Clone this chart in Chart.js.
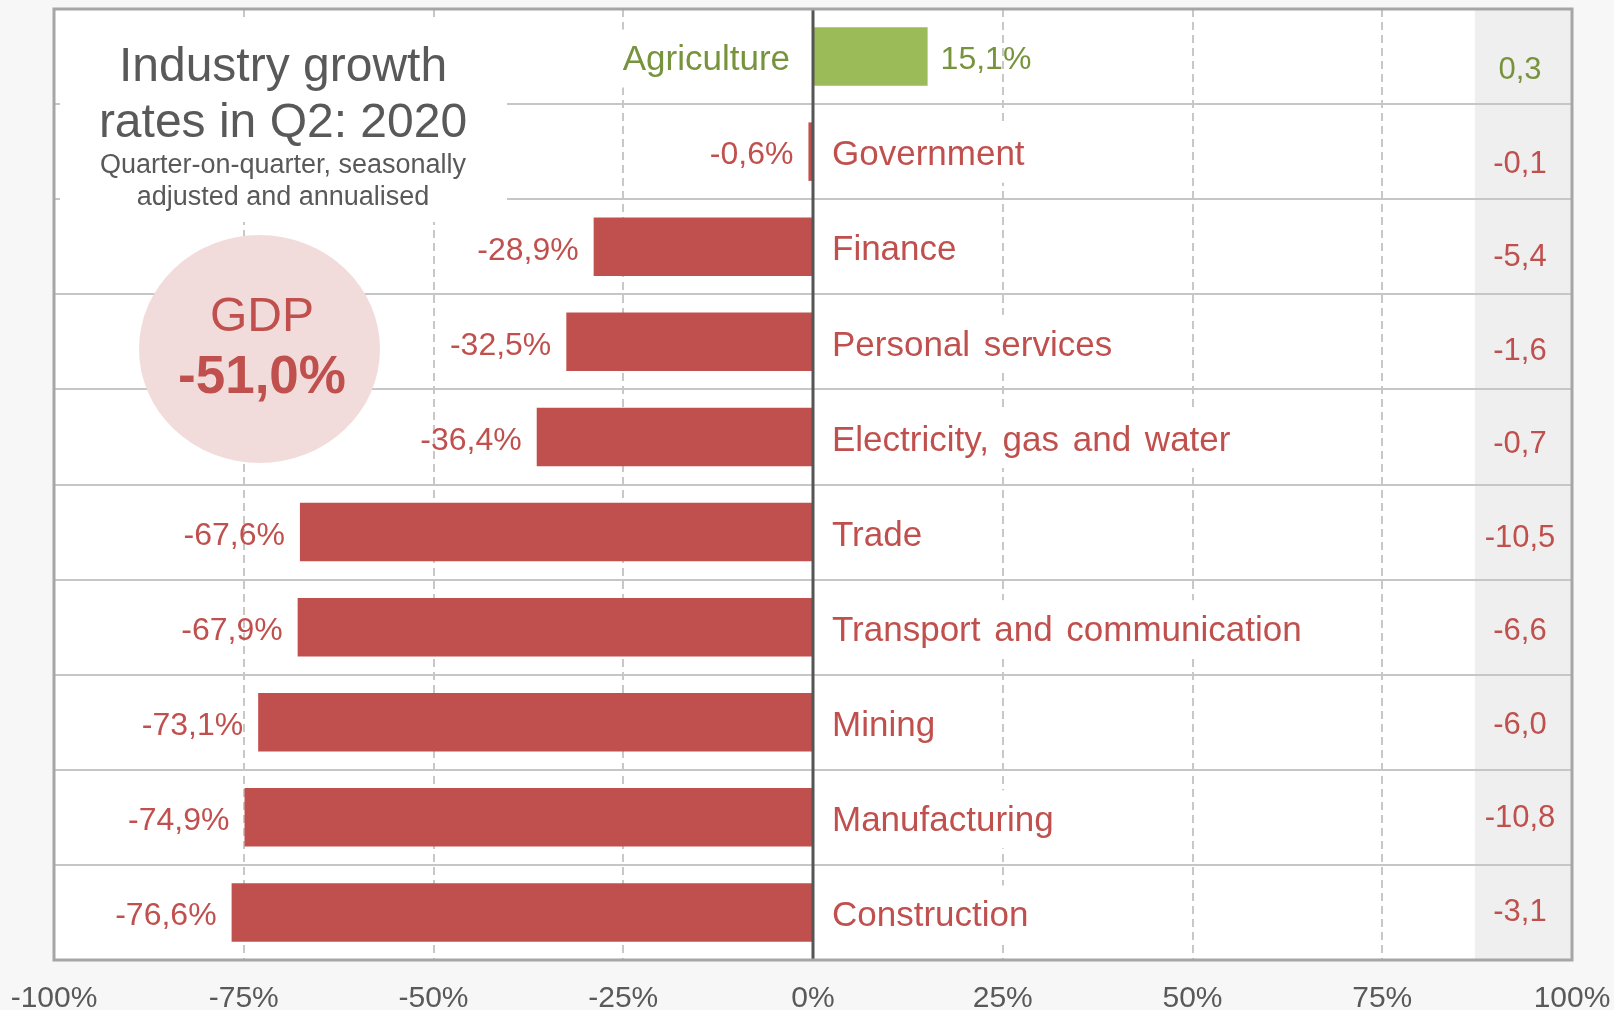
<!DOCTYPE html>
<html>
<head>
<meta charset="utf-8">
<script src="https://cdn.jsdelivr.net/npm/chart.js@4/dist/chart.umd.min.js"></script>
<style>
  body { margin: 0; background: #f7f7f7; }
  #wrap { width: 1614px; height: 1010px; }
</style>
</head>
<body>
<div id="wrap"><canvas id="growthChart" width="1614" height="1010"></canvas></div>
<script>
// industries, top to bottom
var categories = ['Agriculture', 'Government', 'Finance', 'Personal services', 'Electricity, gas and water',
    'Trade', 'Transport and communication', 'Mining', 'Manufacturing', 'Construction'];
// q/q saar growth, %
var growth = [15.1, -0.6, -28.9, -32.5, -36.4, -67.6, -67.9, -73.1, -74.9, -76.6];
// contribution to GDP growth, percentage points (right column)
var contribution = [0.3, -0.1, -5.4, -1.6, -0.7, -10.5, -6.6, -6.0, -10.8, -3.1];
var gdpGrowth = -51.0;
var tickValues = [-100, -75, -50, -25, 0, 25, 50, 75, 100];

var RED = '#c0504d';
var GREEN = '#9bbb59';
var GREEN_TEXT = '#77933c';
var GREY_TEXT = '#595959';
var FONT = '"Liberation Sans", Arial, sans-serif';

function fmt(v) {
    return v.toFixed(1).replace('.', ',');
}

var ctx = document.getElementById('growthChart').getContext('2d');

// background, shaded column, title box, labels
var decor = {
    id: 'decor',
    beforeDraw: function (chart) {
        var c = chart.ctx, a = chart.chartArea, x = chart.scales.x;
        c.save();
        c.fillStyle = '#f7f7f7';
        c.fillRect(0, 0, chart.width, chart.height);
        c.fillStyle = '#ffffff';
        c.fillRect(a.left, a.top, a.width, a.height);
        var bx = x.getPixelForValue(87.2);
        c.fillStyle = '#efefef';
        c.fillRect(bx, a.top, a.right - bx, a.height);
        c.restore();
    },
    beforeDatasetsDraw: function (chart) {
        var c = chart.ctx;
        var bars = chart.getDatasetMeta(0).data;
        c.save();
        // title box hides the grid
        c.fillStyle = '#ffffff';
        c.fillRect(60, 17, 447, 205);
        // white boxes behind category names
        c.font = '35px ' + FONT;
        c.wordSpacing = '4px';
        bars.forEach(function (bar, i) {
            var w = c.measureText(categories[i]).width;
            var left = growth[i] >= 0 ? bar.base - 24 - w : bar.base + 20;
            c.fillRect(left - 3, bar.y - 27, w + 6, 58);
        });
        c.restore();
    },
    afterDatasetsDraw: function (chart) {
        var c = chart.ctx, a = chart.chartArea, x = chart.scales.x;
        var bars = chart.getDatasetMeta(0).data;
        c.save();

        // zero line
        var zx = x.getPixelForValue(0);
        c.strokeStyle = '#555555';
        c.lineWidth = 3;
        c.beginPath();
        c.moveTo(zx, a.top);
        c.lineTo(zx, a.bottom);
        c.stroke();

        // frame
        c.strokeStyle = '#a6a6a6';
        c.lineWidth = 3;
        c.strokeRect(a.left, a.top, a.width, a.height);

        c.textBaseline = 'middle';
        bars.forEach(function (bar, i) {
            var pos = growth[i] >= 0;
            c.fillStyle = pos ? GREEN_TEXT : RED;

            // value label
            c.font = '32px ' + FONT;
            c.wordSpacing = '0px';
            c.textAlign = pos ? 'left' : 'right';
            c.fillText(fmt(growth[i]) + '%', pos ? bar.x + 13 : bar.x - 15, bar.y + 4);

            // category name
            c.font = '35px ' + FONT;
            c.wordSpacing = '4px';
            c.textAlign = pos ? 'right' : 'left';
            c.fillText(categories[i], pos ? bar.base - 24 : bar.base + 20, bar.y + 4);

            // contribution column
            c.font = '31px ' + FONT;
            c.wordSpacing = '0px';
            c.textAlign = 'center';
            c.fillText(fmt(contribution[i]), 1520, bar.y + 14 - i * 1.6);
        });

        // title
        c.fillStyle = GREY_TEXT;
        c.textAlign = 'center';
        c.textBaseline = 'alphabetic';
        c.font = '48px ' + FONT;
        c.fillText('Industry growth', 283, 81);
        c.fillText('rates in Q2: 2020', 283, 137);
        c.font = '27px ' + FONT;
        c.fillText('Quarter-on-quarter, seasonally', 283, 173);
        c.fillText('adjusted and annualised', 283, 205);

        // GDP bubble
        c.fillStyle = '#f2dcdb';
        c.beginPath();
        c.ellipse(259.5, 349, 120.5, 114, 0, 0, Math.PI * 2);
        c.fill();
        c.fillStyle = RED;
        c.font = '48px ' + FONT;
        c.fillText('GDP', 262, 331);
        c.font = 'bold 53px ' + FONT;
        c.fillText(fmt(gdpGrowth) + '%', 262, 393);

        c.restore();
    }
};

var growthChart = new Chart(ctx, {
    type: 'bar',
    data: {
        labels: categories,
        datasets: [{
            data: growth,
            backgroundColor: growth.map(function (v) { return v >= 0 ? GREEN : RED; }),
            borderWidth: 0,
            barPercentage: 0.615,
            categoryPercentage: 1
        }]
    },
    options: {
        indexAxis: 'y',
        responsive: false,
        animation: false,
        layout: {
            padding: { left: 54, right: 42, top: 9, bottom: 0 }
        },
        scales: {
            x: {
                min: -100,
                max: 100,
                afterBuildTicks: function (scale) {
                    scale.ticks = tickValues.map(function (v) { return { value: v }; });
                },
                afterFit: function (scale) {
                    scale.height = 50;
                    // let the layout padding alone decide the plot edges
                    scale.paddingLeft = 0;
                    scale.paddingRight = 0;
                },
                ticks: {
                    padding: 21,
                    color: GREY_TEXT,
                    font: { family: FONT, size: 30 },
                    callback: function (v) { return v + '%'; }
                },
                grid: {
                    drawTicks: false,
                    lineWidth: 2,
                    color: function (c) {
                        var v = c.tick ? c.tick.value : null;
                        return (v === 0 || v === -100 || v === 100) ? 'rgba(0,0,0,0)' : '#c8c8c8';
                    }
                },
                border: { display: false, dash: [8, 5] }
            },
            y: {
                ticks: { display: false },
                grid: {
                    offset: true,
                    drawTicks: false,
                    lineWidth: 2,
                    color: '#c6c6c6'
                },
                border: { display: false }
            }
        },
        plugins: {
            legend: { display: false },
            tooltip: { enabled: false }
        }
    },
    plugins: [decor]
});
</script>
</body>
</html>
